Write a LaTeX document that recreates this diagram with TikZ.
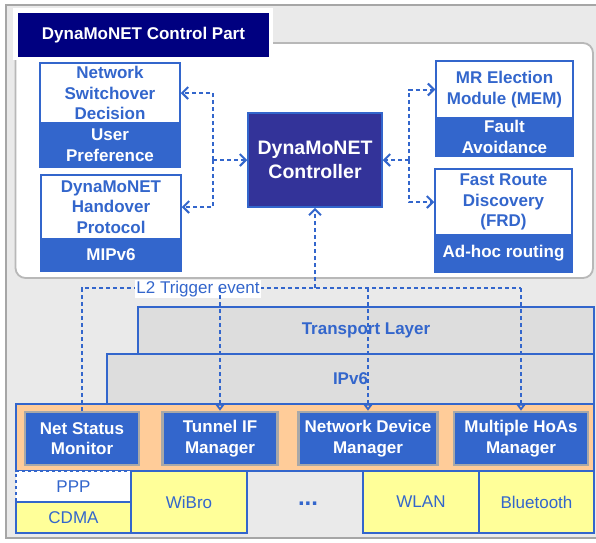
\documentclass[tikz,border=0pt]{standalone}
\usepackage{fontspec}
\setmainfont{Liberation Sans}
\usetikzlibrary{arrows.meta}
\definecolor{myblue}{HTML}{3366CC}
\definecolor{navy}{HTML}{000080}
\definecolor{ctrlc}{HTML}{333399}
\definecolor{bgg}{HTML}{EAEAEA}
\definecolor{frameg}{HTML}{A6A6A6}
\definecolor{rbg}{HTML}{B8B8B8}
\definecolor{layg}{HTML}{DDDDDD}
\definecolor{peach}{HTML}{FFCC99}
\definecolor{yel}{HTML}{FFFF99}
\definecolor{modg}{HTML}{A8A8A8}
\tikzset{
  bf/.style={font=\bfseries\fontsize{17}{20.5}\selectfont},
  rf/.style={font=\fontsize{17}{20.5}\selectfont},
  base/.style={rectangle, inner sep=0pt, align=center, line width=1.5pt},
  wbox/.style={base, bf, draw=myblue, fill=white, text=myblue},
  bbox/.style={base, bf, draw=myblue, fill=myblue, text=white},
  module/.style={base, bf, draw=modg, line width=2.5pt, fill=myblue, text=white},
  layer/.style={base, bf, draw=myblue, fill=layg, text=myblue},
  netbox/.style={base, rf, draw=myblue, fill=yel, text=myblue},
  dl/.style={draw=myblue, line width=2pt, dash pattern=on 4pt off 3pt},
  barb/.tip={Straight Barb[length=6pt,width=12pt]},
  tri/.tip={Triangle[open,length=7pt,width=10pt]},
}
\begin{document}
\begin{tikzpicture}[x=1pt,y=-1pt]
\useasboundingbox (0,0) rectangle (596,542);
\begin{scope}
\clip (0,0) rectangle (596,542);
% frame
\draw[fill=bgg, draw=frameg, line width=2pt] (6,4.5) rectangle (604,538);
% white control area
\draw[fill=white, draw=rbg, line width=1.8pt, rounded corners=10pt] (15.5,43) rectangle (593,278);
\fill[white] (13,8) rectangle (273,60);
\end{scope}
% title
\node[base, fill=navy, text=white, bf, minimum width=251pt, minimum height=44pt] (title) at (143.5,35) {DynaMoNET Control Part};
% left boxes
\node[wbox, minimum width=140pt, minimum height=60pt] (nsd) at (110,93) {Network\\Switchover\\Decision};
\node[bbox, minimum width=140pt, minimum height=44pt] (up) at (110,145) {User\\Preference};
\node[wbox, minimum width=140pt, minimum height=64pt] (hop) at (111,207) {DynaMoNET\\Handover\\Protocol};
\node[bbox, minimum width=140pt, minimum height=32pt] (mip) at (111,255) {MIPv6};
% controller
\node[base, draw=myblue, fill=ctrlc, text=white, font=\bfseries\fontsize{19.5}{24}\selectfont, minimum width=134pt, minimum height=94pt] (ctrl) at (315,160) {DynaMoNET\\Controller};
% right boxes
\node[wbox, minimum width=137pt, minimum height=57pt] (mem) at (504.5,89.5) {MR Election\\Module (MEM)};
\node[bbox, minimum width=137pt, minimum height=38pt] (fa) at (504.5,137) {Fault\\Avoidance};
\node[wbox, minimum width=137pt, minimum height=66pt] (frd) at (503.5,202) {Fast Route\\Discovery\\(FRD)};
\node[bbox, minimum width=137pt, minimum height=37pt] (ahr) at (503.5,253.5) {Ad-hoc routing};
% connectors in control part
\coordinate (jl) at (213,160);
\coordinate (jr) at (409,160);
\draw[dl,-barb] (jl) -- (ctrl.west);
\draw[dl,-barb] (jl) |- (nsd.east);
\draw[dl,-barb] (jl) |- (hop.east);
\draw[dl,-barb] (jr) -- (ctrl.east);
\draw[dl,-barb] (jr) |- (mem.west);
\draw[dl,-barb] (jr) |- (frd.west);
% layers
\node[layer, minimum width=456pt, minimum height=47pt] (tl) at (366,330.5) {Transport Layer};
\node[layer, minimum width=487pt, minimum height=50pt] (ip) at (350.5,379) {IPv6};
\node[base, draw=myblue, fill=peach, minimum width=578pt, minimum height=67pt] (band) at (305,437.5) {};
\node[module, minimum width=114pt, minimum height=53pt] (nsm) at (82,438.5) {Net Status\\Monitor};
\node[module, minimum width=115pt, minimum height=53pt] (tif) at (220,438.5) {Tunnel IF\\Manager};
\node[module, minimum width=139pt, minimum height=53pt] (ndm) at (368,438.5) {Network Device\\Manager};
\node[module, minimum width=134pt, minimum height=53pt] (mh) at (521,438.5) {Multiple HoAs\\Manager};
% bottom row
\node[base, rf, draw=myblue, dashed, fill=white, text=myblue, minimum width=115pt, minimum height=31pt] (ppp) at (73.5,486.5) {PPP};
\node[netbox, minimum width=115pt, minimum height=31pt] (cdma) at (73.5,517.5) {CDMA};
\node[netbox, minimum width=116pt, minimum height=62pt] (wibro) at (189,502) {WiBro};
\node[text=myblue, font=\bfseries\fontsize{24}{24}\selectfont, inner sep=0pt, anchor=base] (dots) at (308,505) {...};
\node[netbox, minimum width=116pt, minimum height=62pt] (wlan) at (421,502) {WLAN};
\node[netbox, minimum width=115pt, minimum height=62pt] (bt) at (536.5,502) {Bluetooth};
% L2 trigger connectors
\coordinate (jb) at (315,288);
\draw[dl] (nsm.north) |- (mh.north |- jb);
\node[fill=white, text=myblue, rf, inner sep=1pt, minimum height=18pt] (l2) at (198,289) {L2 Trigger event};
\draw[dl,-barb] (jb) -- (ctrl.south);
\draw[dl,-tri] (jb -| tif.north) -- (tif.north);
\draw[dl,-tri] (jb -| ndm.north) -- (ndm.north);
\draw[dl,-tri] (jb -| mh.north) -- (mh.north);
\end{tikzpicture}
\end{document}
